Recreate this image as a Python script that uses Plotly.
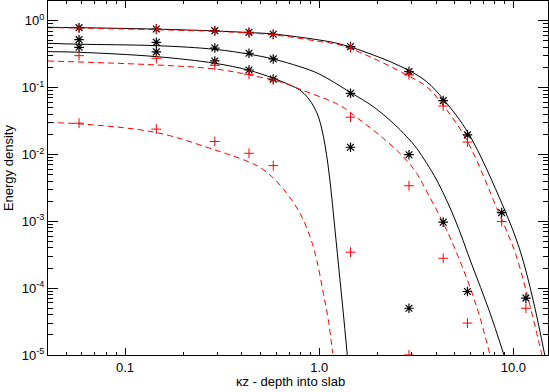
import plotly.graph_objects as go

# ---- marker data (measured points) ----
x_pts = [0.058, 0.145, 0.29, 0.435, 0.58, 1.45, 2.9, 4.35, 5.8, 8.7, 11.6]

ast_top = [0.786, 0.751, 0.709, 0.67, 0.626, 0.41, 0.173, 0.0637, 0.0196, 0.00135, 7.1e-5]
ast_mid = [0.52, 0.475, 0.39, 0.326, 0.268, 0.082, 0.0099, 0.00097, 8.9e-5]
ast_bot = [0.40, 0.342, 0.25, 0.183, 0.134, 0.0128, 5.0e-5]

plus_top = [0.78, 0.745, 0.70, 0.66, 0.62, 0.395, 0.155, 0.053, 0.0153, 0.00099, 5.0e-5]
plus_mid = [0.30, 0.274, 0.215, 0.158, 0.13, 0.036, 0.0034, 2.8e-4, 3.0e-5]
plus_bot = [0.0293, 0.0239, 0.0156, 0.0104, 0.0068, 3.45e-4, 1.0e-5]

# ---- model curves ----
solid_top_x = [0.0401, 0.058, 0.1456, 0.2906, 0.43, 0.578, 1.0, 1.28, 1.90, 2.822, 3.577, 4.39, 5.86, 8.84, 10.8, 12.6, 14.5]
solid_top_y = [0.797, 0.786, 0.748, 0.702, 0.666, 0.633, 0.5145, 0.448, 0.307, 0.1876, 0.1224, 0.0652, 0.0208, 0.00169, 3.72e-4, 6.87e-5, 1.0e-5]

solid_mid_x = [0.0401, 0.058, 0.1456, 0.2906, 0.44, 0.58, 0.796, 1.0, 1.45, 1.90, 2.408, 2.822, 3.178, 3.577, 4.027, 4.944, 6.12, 7.486, 8.945]
solid_mid_y = [0.459, 0.445, 0.423, 0.373, 0.314, 0.267, 0.205, 0.1595, 0.0844, 0.0517, 0.0292, 0.0184, 0.01235, 0.00736, 0.00414, 0.00116, 2.22e-4, 4.71e-5, 1.0e-5]

solid_bot_x = [0.0401, 0.058, 0.145, 0.29, 0.43, 0.58, 0.707, 0.796, 0.876, 0.94, 0.992, 1.034, 1.071, 1.11, 1.15, 1.192, 1.257, 1.326, 1.395]
solid_bot_y = [0.345, 0.337, 0.29, 0.231, 0.183, 0.138, 0.109, 0.092, 0.070, 0.0513, 0.0363, 0.0232, 0.01387, 0.00697, 0.00295, 0.00105, 2.23e-4, 4.74e-5, 1.0e-5]

dash_top_x = [0.0401, 0.058, 0.1456, 0.2906, 0.43, 0.58, 1.0, 1.28, 1.90, 2.822, 3.577, 4.355, 5.75, 8.36, 10.19, 12.03, 14.03]
dash_top_y = [0.786, 0.777, 0.733, 0.694, 0.655, 0.617, 0.489, 0.433, 0.274, 0.154, 0.103, 0.054, 0.0164, 0.00139, 3.47e-4, 6.2e-5, 1.0e-5]

dash_mid_x = [0.0401, 0.1456, 0.2906, 0.44, 0.667, 0.796, 1.28, 1.622, 2.138, 2.71, 3.178, 3.506, 4.325, 5.2, 6.47, 7.58]
dash_mid_y = [0.2496, 0.2175, 0.1895, 0.154, 0.1158, 0.0942, 0.0539, 0.0327, 0.0174, 0.00924, 0.00522, 0.00311, 9.76e-4, 2.95e-4, 5.28e-5, 1.0e-5]

dash_bot_x = [0.0401, 0.058, 0.1456, 0.2906, 0.431, 0.4955, 0.58, 0.68, 0.796, 0.897, 0.971, 1.05, 1.114, 1.173]
dash_bot_y = [0.0299, 0.0287, 0.0212, 0.01167, 0.0078, 0.0064, 0.00445, 0.00263, 0.00132, 5.9e-4, 2.65e-4, 8.4e-5, 3.36e-5, 1.07e-5]

# ---- axis labels ----
x_tickvals = [0.1, 1.0, 10.0]
x_ticktext = ["0.1", "1.0", "10.0"]
y_tickvals = [1, 0.1, 0.01, 0.001, 1e-4, 1e-5]
y_ticktext = ["10<sup>0</sup>", "10<sup>-1</sup>", "10<sup>-2</sup>",
              "10<sup>-3</sup>", "10<sup>-4</sup>", "10<sup>-5</sup>"]
x_title = "κz - depth into slab"
y_title = "Energy density"

x_minor = [m * 10 ** e for e in range(-2, 2) for m in range(2, 10)]
y_minor = [m * 10 ** e for e in range(-5, 1) for m in range(2, 10)]

FONT = "Liberation Sans, Arial, sans-serif"

fig = go.Figure()

for xs, ys in [(solid_top_x, solid_top_y), (solid_mid_x, solid_mid_y), (solid_bot_x, solid_bot_y)]:
    fig.add_trace(go.Scatter(x=xs, y=ys, mode="lines", line=dict(color="black", width=1, shape="spline"),
                             showlegend=False, hoverinfo="skip"))
for xs, ys in [(dash_top_x, dash_top_y), (dash_mid_x, dash_mid_y), (dash_bot_x, dash_bot_y)]:
    fig.add_trace(go.Scatter(x=xs, y=ys, mode="lines",
                             line=dict(color="red", width=1, dash="6px,4px", shape="spline"),
                             showlegend=False, hoverinfo="skip"))

for ys in [ast_top, ast_mid, ast_bot]:
    fig.add_trace(go.Scatter(x=x_pts[:len(ys)], y=ys, mode="markers",
                             marker=dict(symbol="asterisk-open", size=8, color="black",
                                         line=dict(color="black", width=1.2)),
                             showlegend=False))
for ys in [plus_top, plus_mid, plus_bot]:
    fig.add_trace(go.Scatter(x=x_pts[:len(ys)], y=ys, mode="markers",
                             marker=dict(symbol="cross-thin-open", size=7, color="red",
                                         line=dict(color="red", width=1)),
                             showlegend=False))

axis_common = dict(type="log", showgrid=False, zeroline=False, showline=True, linecolor="black",
                   linewidth=1, mirror="allticks", ticks="inside", tickcolor="black", tickwidth=1,
                   tickmode="array", tickfont=dict(family=FONT, size=13, color="black"))

fig.update_xaxes(**axis_common, range=[-1.3965, 1.1782], tickvals=x_tickvals, ticktext=x_ticktext,
                 ticklen=7,
                 minor=dict(tickmode="array", tickvals=x_minor, ticks="inside", ticklen=3,
                            tickcolor="black", tickwidth=1, showgrid=False))
fig.update_yaxes(**axis_common, range=[-5, 0.2946], tickvals=y_tickvals, ticktext=y_ticktext,
                 ticklen=10,
                 minor=dict(tickmode="array", tickvals=y_minor, ticks="inside", ticklen=5,
                            tickcolor="black", tickwidth=1, showgrid=False))

fig.add_annotation(text=x_title, xref="paper", yref="paper", x=0.484, y=-0.076,
                   showarrow=False, font=dict(family=FONT, size=13, color="black"),
                   xanchor="center", yanchor="middle")
fig.add_annotation(text=y_title, xref="paper", yref="paper", x=-0.08, y=0.528, textangle=-90,
                   showarrow=False, font=dict(family=FONT, size=13, color="black"),
                   xanchor="center", yanchor="middle")

fig.update_layout(width=549, height=392, margin=dict(l=48, r=1, t=1, b=37),
                  plot_bgcolor="white", paper_bgcolor="white",
                  font=dict(family=FONT, size=13, color="black"))

fig.write_html("out.html", config={"displayModeBar": False},
               post_script="document.body.style.margin='0px';document.body.style.overflow='hidden';")
